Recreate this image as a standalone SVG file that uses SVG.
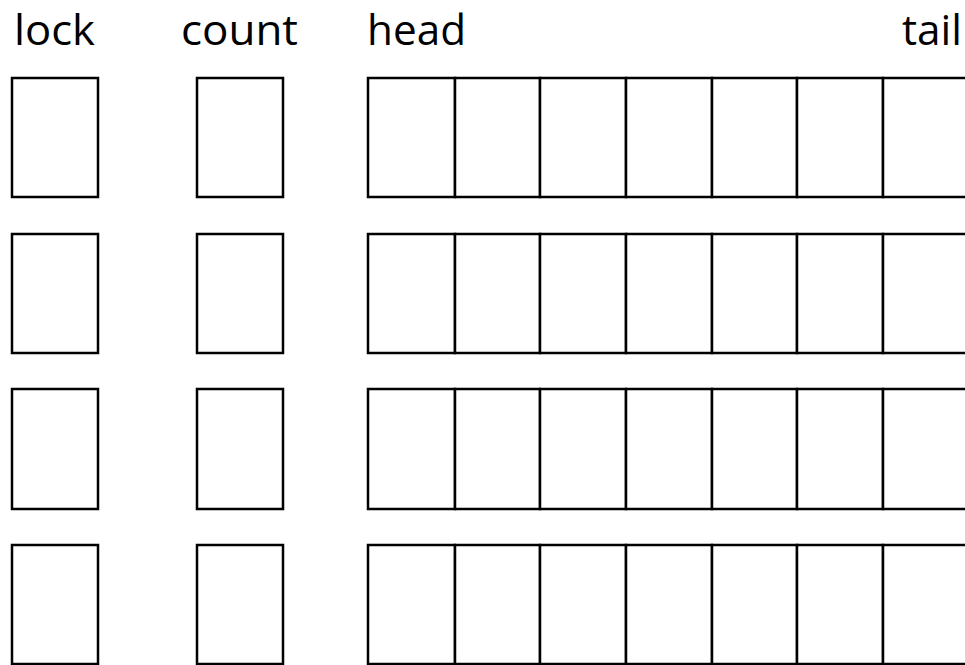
<svg xmlns="http://www.w3.org/2000/svg" width="965" height="665" viewBox="0 0 965 665">
<style>
.lbl{font-family:"Open Sans","Noto Sans","Liberation Sans",sans-serif;font-size:42px;fill:#000}
.box{fill:#fff;stroke:#000;stroke-width:2.5}
</style>
<rect width="965" height="665" fill="#fff"/>
<g id="labels">
<text class="lbl" x="14" y="45" textLength="81" lengthAdjust="spacingAndGlyphs">lock</text>
<text class="lbl" x="181" y="45" textLength="117" lengthAdjust="spacingAndGlyphs">count</text>
<text class="lbl" x="367" y="45" textLength="99" lengthAdjust="spacingAndGlyphs">head</text>
<text class="lbl" x="902" y="45" textLength="60" lengthAdjust="spacingAndGlyphs">tail</text>
</g>
<g id="row1">
<rect class="box" x="12" y="78" width="86" height="119"/>
<rect class="box" x="197" y="78" width="86" height="119"/>
<rect class="box" x="368" y="78" width="87" height="119"/>
<rect class="box" x="455" y="78" width="85" height="119"/>
<rect class="box" x="540" y="78" width="86" height="119"/>
<rect class="box" x="626" y="78" width="86" height="119"/>
<rect class="box" x="712" y="78" width="85" height="119"/>
<rect class="box" x="797" y="78" width="86" height="119"/>
<rect class="box" x="883" y="78" width="90" height="119"/>
</g>
<g id="row2">
<rect class="box" x="12" y="234" width="86" height="119"/>
<rect class="box" x="197" y="234" width="86" height="119"/>
<rect class="box" x="368" y="234" width="87" height="119"/>
<rect class="box" x="455" y="234" width="85" height="119"/>
<rect class="box" x="540" y="234" width="86" height="119"/>
<rect class="box" x="626" y="234" width="86" height="119"/>
<rect class="box" x="712" y="234" width="85" height="119"/>
<rect class="box" x="797" y="234" width="86" height="119"/>
<rect class="box" x="883" y="234" width="90" height="119"/>
</g>
<g id="row3">
<rect class="box" x="12" y="389" width="86" height="120"/>
<rect class="box" x="197" y="389" width="86" height="120"/>
<rect class="box" x="368" y="389" width="87" height="120"/>
<rect class="box" x="455" y="389" width="85" height="120"/>
<rect class="box" x="540" y="389" width="86" height="120"/>
<rect class="box" x="626" y="389" width="86" height="120"/>
<rect class="box" x="712" y="389" width="85" height="120"/>
<rect class="box" x="797" y="389" width="86" height="120"/>
<rect class="box" x="883" y="389" width="90" height="120"/>
</g>
<g id="row4">
<rect class="box" x="12" y="545" width="86" height="119"/>
<rect class="box" x="197" y="545" width="86" height="119"/>
<rect class="box" x="368" y="545" width="87" height="119"/>
<rect class="box" x="455" y="545" width="85" height="119"/>
<rect class="box" x="540" y="545" width="86" height="119"/>
<rect class="box" x="626" y="545" width="86" height="119"/>
<rect class="box" x="712" y="545" width="85" height="119"/>
<rect class="box" x="797" y="545" width="86" height="119"/>
<rect class="box" x="883" y="545" width="90" height="119"/>
</g>
<g id="connectors"/>
</svg>
